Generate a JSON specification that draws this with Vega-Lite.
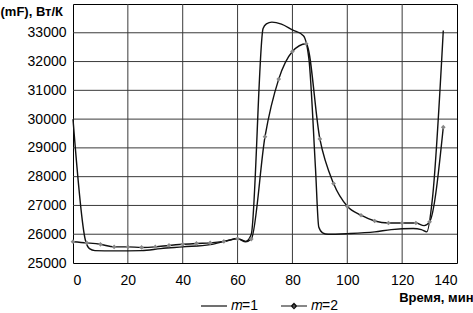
{
  "$schema": "https://vega.github.io/schema/vega-lite/v6.json",
  "width": 384,
  "height": 259,
  "autosize": "none",
  "padding": {"left": 73, "top": 4, "right": 16, "bottom": 50},
  "background": "white",
  "config": {
    "font": "Liberation Sans",
    "view": {"stroke": "#000", "strokeWidth": 1},
    "axis": {"domain": false, "ticks": false, "grid": false, "labelOverlap": false, "labelFont": "Liberation Sans", "labelFontSize": 14, "labelColor": "#000", "titleColor": "#000", "titleFont": "Liberation Sans"}
  },
  "datasets": {
    "gridx": [{"x": 20}, {"x": 40}, {"x": 60}, {"x": 80}, {"x": 100}, {"x": 120}],
    "gridy": [{"y": 26000}, {"y": 27000}, {"y": 28000}, {"y": 29000}, {"y": 30000}, {"y": 31000}, {"y": 32000}, {"y": 33000}],
    "curves": [
      {"series": "m=1", "x": 0, "y": 30000, "marker": false},
      {"series": "m=1", "x": 4.5, "y": 25800, "marker": false},
      {"series": "m=1", "x": 6, "y": 25500, "marker": false},
      {"series": "m=1", "x": 8, "y": 25430, "marker": false},
      {"series": "m=1", "x": 15, "y": 25420, "marker": false},
      {"series": "m=1", "x": 25, "y": 25430, "marker": false},
      {"series": "m=1", "x": 32, "y": 25500, "marker": false},
      {"series": "m=1", "x": 40, "y": 25560, "marker": false},
      {"series": "m=1", "x": 50, "y": 25640, "marker": false},
      {"series": "m=1", "x": 56, "y": 25770, "marker": false},
      {"series": "m=1", "x": 60, "y": 25850, "marker": false},
      {"series": "m=1", "x": 63, "y": 25750, "marker": false},
      {"series": "m=1", "x": 65, "y": 26000, "marker": false},
      {"series": "m=1", "x": 69.3, "y": 33150, "marker": false},
      {"series": "m=1", "x": 70.5, "y": 33310, "marker": false},
      {"series": "m=1", "x": 72.5, "y": 33370, "marker": false},
      {"series": "m=1", "x": 76, "y": 33300, "marker": false},
      {"series": "m=1", "x": 80, "y": 33100, "marker": false},
      {"series": "m=1", "x": 84, "y": 32900, "marker": false},
      {"series": "m=1", "x": 86, "y": 32100, "marker": false},
      {"series": "m=1", "x": 88.4, "y": 28300, "marker": false},
      {"series": "m=1", "x": 89.6, "y": 26250, "marker": false},
      {"series": "m=1", "x": 91, "y": 26050, "marker": false},
      {"series": "m=1", "x": 93, "y": 26000, "marker": false},
      {"series": "m=1", "x": 100, "y": 26020, "marker": false},
      {"series": "m=1", "x": 110, "y": 26080, "marker": false},
      {"series": "m=1", "x": 116, "y": 26160, "marker": false},
      {"series": "m=1", "x": 124, "y": 26200, "marker": false},
      {"series": "m=1", "x": 127, "y": 26160, "marker": false},
      {"series": "m=1", "x": 129, "y": 26080, "marker": false},
      {"series": "m=1", "x": 131, "y": 27200, "marker": false},
      {"series": "m=1", "x": 135, "y": 33080, "marker": false},
      {"series": "m=2", "x": 0, "y": 25740, "marker": true},
      {"series": "m=2", "x": 5, "y": 25700, "marker": true},
      {"series": "m=2", "x": 10, "y": 25650, "marker": true},
      {"series": "m=2", "x": 15, "y": 25560, "marker": true},
      {"series": "m=2", "x": 20, "y": 25560, "marker": true},
      {"series": "m=2", "x": 25, "y": 25540, "marker": true},
      {"series": "m=2", "x": 30, "y": 25560, "marker": true},
      {"series": "m=2", "x": 35, "y": 25610, "marker": true},
      {"series": "m=2", "x": 40, "y": 25650, "marker": true},
      {"series": "m=2", "x": 45, "y": 25680, "marker": true},
      {"series": "m=2", "x": 50, "y": 25700, "marker": true},
      {"series": "m=2", "x": 55, "y": 25750, "marker": true},
      {"series": "m=2", "x": 60, "y": 25840, "marker": true},
      {"series": "m=2", "x": 63, "y": 25740, "marker": false},
      {"series": "m=2", "x": 65, "y": 25830, "marker": true},
      {"series": "m=2", "x": 70, "y": 29390, "marker": true},
      {"series": "m=2", "x": 75, "y": 31390, "marker": true},
      {"series": "m=2", "x": 80, "y": 32350, "marker": true},
      {"series": "m=2", "x": 85, "y": 32620, "marker": true},
      {"series": "m=2", "x": 90, "y": 29310, "marker": true},
      {"series": "m=2", "x": 95, "y": 27760, "marker": true},
      {"series": "m=2", "x": 100, "y": 26970, "marker": true},
      {"series": "m=2", "x": 105, "y": 26660, "marker": true},
      {"series": "m=2", "x": 110, "y": 26460, "marker": true},
      {"series": "m=2", "x": 115, "y": 26390, "marker": true},
      {"series": "m=2", "x": 120, "y": 26390, "marker": true},
      {"series": "m=2", "x": 125, "y": 26390, "marker": true},
      {"series": "m=2", "x": 128, "y": 26300, "marker": false},
      {"series": "m=2", "x": 130, "y": 26430, "marker": true},
      {"series": "m=2", "x": 135, "y": 29720, "marker": true}
    ]
  },
  "layer": [
    {
      "data": {"name": "gridx"},
      "mark": {"type": "rule", "color": "#3a3a3a", "strokeWidth": 1},
      "encoding": {
        "x": {"field": "x", "type": "quantitative", "scale": {"domain": [0, 140], "nice": false},
          "axis": {"grid": false, "labelOverlap": false, "values": [0, 20, 40, 60, 80, 100, 120, 140], "labelPadding": 10, "title": "Время, мин", "titleFontWeight": "bold", "titleFontSize": 13, "titleAnchor": "end", "titleAlign": "right", "titleX": 400, "titleY": 34, "titleBaseline": "middle"}}
      }
    },
    {
      "data": {"name": "gridy"},
      "mark": {"type": "rule", "color": "#3a3a3a", "strokeWidth": 1},
      "encoding": {
        "y": {"field": "y", "type": "quantitative", "scale": {"domain": [25000, 34000], "nice": false, "zero": false},
          "axis": {"grid": false, "labelOverlap": false, "values": [25000, 26000, 27000, 28000, 29000, 30000, 31000, 32000, 33000], "format": "d", "labelPadding": 7, "title": "(mF), Вт/К", "titleFontWeight": "bold", "titleFontSize": 13, "titleAngle": 0, "titleAlign": "left", "titleAnchor": "start", "titleX": -73, "titleY": 7, "titleBaseline": "middle"}}
      }
    },
    {
      "data": {"name": "curves"},
      "mark": {"type": "line", "interpolate": "monotone", "strokeWidth": 1.4},
      "encoding": {
        "x": {"field": "x", "type": "quantitative", "scale": {"domain": [0, 140], "nice": false},
          "axis": {"grid": false, "labelOverlap": false, "values": [0, 20, 40, 60, 80, 100, 120, 140], "labelPadding": 10, "title": "Время, мин", "titleFontWeight": "bold", "titleFontSize": 13, "titleAnchor": "end", "titleAlign": "right", "titleX": 400, "titleY": 34, "titleBaseline": "middle"}},
        "y": {"field": "y", "type": "quantitative", "scale": {"domain": [25000, 34000], "nice": false, "zero": false},
          "axis": {"grid": false, "labelOverlap": false, "values": [25000, 26000, 27000, 28000, 29000, 30000, 31000, 32000, 33000], "format": "d", "labelPadding": 7, "title": "(mF), Вт/К", "titleFontWeight": "bold", "titleFontSize": 13, "titleAngle": 0, "titleAlign": "left", "titleAnchor": "start", "titleX": -73, "titleY": 7, "titleBaseline": "middle"}},
        "color": {"field": "series", "type": "nominal", "scale": {"domain": ["m=1", "m=2"], "range": ["#111", "#111"]},
          "legend": {"orient": "none", "legendX": 127, "legendY": 288, "direction": "horizontal", "title": null, "labelFontSize": 14, "labelFont": "Liberation Sans", "labelColor": "#000", "symbolSize": 676, "columnPadding": 20, "labelOffset": 3,
            "labelExpr": "datum.value == 'm=1' ? '𝑚=1' : '𝑚=2'",
            "encode": {"symbols": {"update": {
              "shape": {"signal": "datum.value == 'm=2' ? 'M-1,0H1M0,-0.2L0.2,0L0,0.2L-0.2,0Z' : 'M-1,0H1'"},
              "fill": {"signal": "datum.value == 'm=2' ? '#888' : 'transparent'"},
              "stroke": {"value": "#111"},
              "strokeWidth": {"value": 1.2}
            }}}}
        }
      }
    },
    {
      "data": {"name": "curves"},
      "transform": [{"filter": "datum.marker"}],
      "mark": {"type": "point", "shape": "diamond", "filled": true, "size": 22, "color": "#888", "opacity": 1},
      "encoding": {
        "x": {"field": "x", "type": "quantitative", "scale": {"domain": [0, 140], "nice": false},
          "axis": {"grid": false, "labelOverlap": false, "values": [0, 20, 40, 60, 80, 100, 120, 140], "labelPadding": 10, "title": "Время, мин", "titleFontWeight": "bold", "titleFontSize": 13, "titleAnchor": "end", "titleAlign": "right", "titleX": 400, "titleY": 34, "titleBaseline": "middle"}},
        "y": {"field": "y", "type": "quantitative", "scale": {"domain": [25000, 34000], "nice": false, "zero": false},
          "axis": {"grid": false, "labelOverlap": false, "values": [25000, 26000, 27000, 28000, 29000, 30000, 31000, 32000, 33000], "format": "d", "labelPadding": 7, "title": "(mF), Вт/К", "titleFontWeight": "bold", "titleFontSize": 13, "titleAngle": 0, "titleAlign": "left", "titleAnchor": "start", "titleX": -73, "titleY": 7, "titleBaseline": "middle"}}
      }
    }
  ]
}
